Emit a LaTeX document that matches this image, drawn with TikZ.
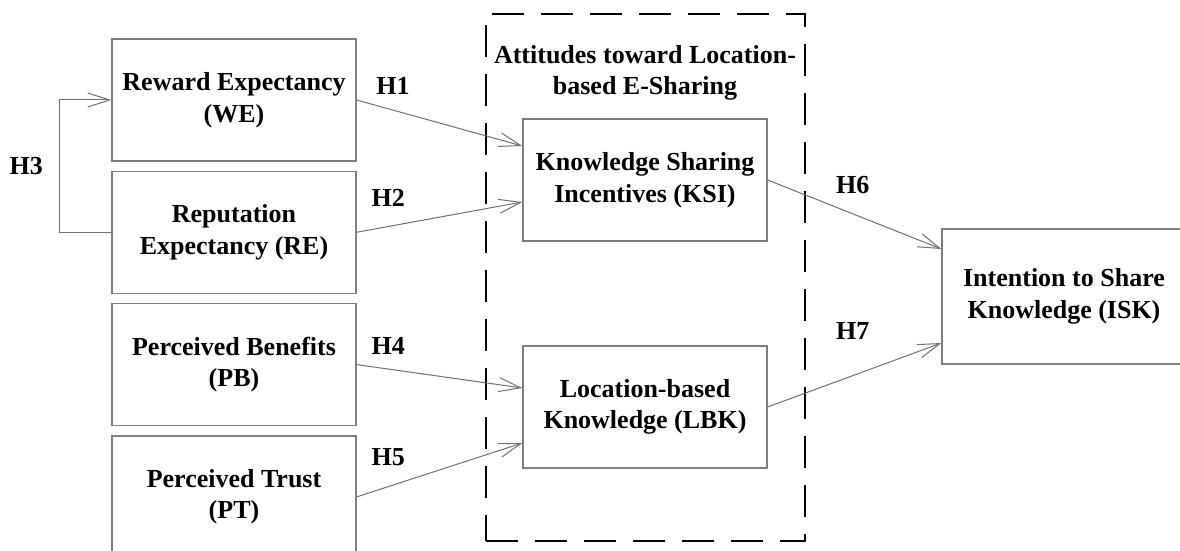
\documentclass[tikz,border=0pt]{standalone}
\usepackage{fontspec}
\setmainfont{Liberation Serif}
\usetikzlibrary{arrows.meta,positioning}
\definecolor{boxgray}{HTML}{808080}
\definecolor{arrgray}{HTML}{707070}

\begin{document}
\begin{tikzpicture}[x=0.5pt,y=-0.5pt,
  var/.style={draw=boxgray,line width=0.65pt,align=center,
    font=\fontsize{13}{15.8}\selectfont\bfseries,inner sep=2pt,
    minimum width=122pt,minimum height=61pt},
  grp/.style={draw=black,line width=1.3pt,dash pattern=on 16pt off 8.5pt,
    minimum width=159.5pt,minimum height=263.5pt},
  hyp/.style={font=\fontsize{13}{15.8}\selectfont\bfseries,inner sep=0pt,text=black},
  arr/.style={-{Straight Barb[length=11pt,width=7pt]},line width=0.5pt,arrgray}]
  \useasboundingbox (0,0) rectangle (1180,551);
  % antecedents
  \node[var] (we) at (234,100) {Reward Expectancy\\(WE)};
  \node[var,below=4.5pt of we] (re) {Reputation\\Expectancy (RE)};
  \node[var,below=4.5pt of re] (pb) {Perceived Benefits\\(PB)};
  \node[var,below=4.5pt of pb] (pt) {Perceived Trust\\(PT)};
  % attitudes group
  \node[grp] (att) at (645.5,277.5) {};
  \node[hyp,align=center] (atttitle) at (645,73) {Attitudes toward Location-\\based E-Sharing};
  \node[var] (ksi) at (645,180) {Knowledge Sharing\\Incentives (KSI)};
  \node[var] (lbk) at (645,407) {Location-based\\Knowledge (LBK)};
  % outcome
  \node[var,minimum height=67.5pt] (isk) at (1064,296.5) {Intention to Share\\Knowledge (ISK)};
  % hypotheses
  \draw[arr] (re.west) -- ++(-52,0) |- node[hyp,left=8pt,pos=0.25] {H3} (we.west);
  \draw[arr] (we.east) -- node[hyp,pos=0.22,above=7.5pt] {H1} ([yshift=17pt]ksi.west);
  \draw[arr] (re.east) -- node[hyp,pos=0.19,above=10pt] {H2} ([yshift=-11pt]ksi.west);
  \draw[arr] (pb.east) -- node[hyp,pos=0.19,above=6.8pt] {H4} ([yshift=9.5pt]lbk.west);
  \draw[arr] (pt.east) -- node[hyp,pos=0.19,above=10pt] {H5} ([yshift=-18pt]lbk.west);
  \draw[arr] (ksi.east) -- node[hyp,pos=0.49,above=10pt] {H6} ([yshift=23.75pt]isk.west);
  \draw[arr] (lbk.east) -- node[hyp,pos=0.49,above=18pt] {H7} ([yshift=-23.25pt]isk.west);
\end{tikzpicture}
\end{document}
